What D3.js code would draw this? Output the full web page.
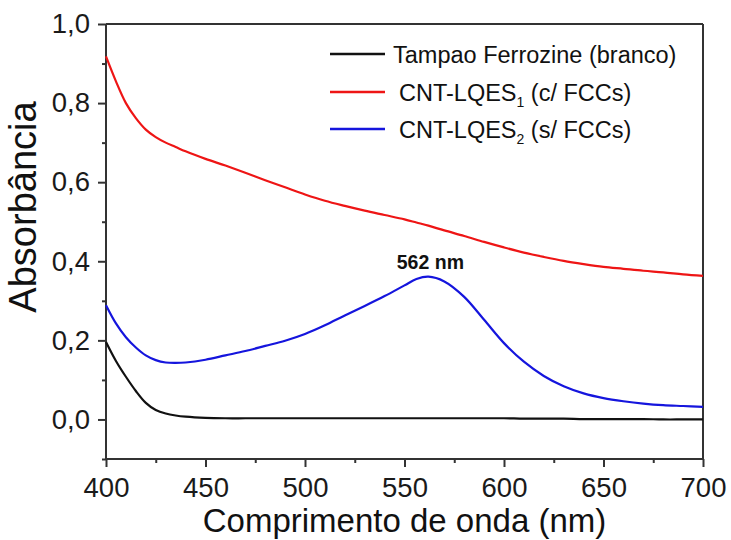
<!DOCTYPE html>
<html><head><meta charset="utf-8">
<script src="https://cdn.jsdelivr.net/npm/d3@7"></script>
<style>body{margin:0;background:#fff}svg{display:block}text{font-family:"Liberation Sans",Arial,sans-serif}</style>
</head><body>
<svg id="c" width="731" height="540"></svg>
<script>
const wavelengths = [400,405,410,415,420,425,430,435,440,450,460,470,480,490,500,510,520,530,540,550,556,562,570,580,590,600,610,620,630,640,650,660,670,680,690,700];
const blankValues = [0.196,0.148,0.108,0.072,0.042,0.024,0.015,0.010,0.007,0.004,0.003,0.003,0.003,0.003,0.003,0.003,0.003,0.003,0.003,0.003,0.003,0.003,0.003,0.003,0.003,0.003,0.002,0.002,0.002,0.001,0.001,0.001,0.001,0.000,0.000,0.000];
const lqes1Values = [0.918,0.855,0.800,0.762,0.733,0.714,0.700,0.689,0.678,0.659,0.642,0.624,0.605,0.587,0.569,0.553,0.540,0.528,0.517,0.506,0.498,0.490,0.478,0.464,0.449,0.435,0.422,0.411,0.401,0.393,0.386,0.381,0.376,0.372,0.367,0.363];
const lqes2Values = [0.289,0.243,0.208,0.182,0.162,0.150,0.144,0.143,0.144,0.151,0.162,0.173,0.186,0.199,0.216,0.238,0.263,0.287,0.312,0.339,0.355,0.361,0.349,0.310,0.252,0.193,0.146,0.110,0.084,0.066,0.054,0.046,0.040,0.036,0.034,0.032];
const seriesNames = ["Tampao Ferrozine (branco)","CNT-LQES1 (c/ FCCs)","CNT-LQES2 (s/ FCCs)"];
const seriesColors = ["#111111","#ee1515","#1515dd"];
const xTicks = [400,450,500,550,600,650,700];
const yTicks = [0.0,0.2,0.4,0.6,0.8,1.0];
const peakLabel = "562 nm";
const peakX = 562;

const svg = d3.select("#c");
const L=106, R=703, T=24, B=459;
const x = d3.scaleLinear().domain([400,700]).range([L,R]);
const y = d3.scaleLinear().domain([-0.1,1.0]).range([B,T]);
const axisColor="#333";

// frame top/right
svg.append("line").attr("x1",L).attr("x2",R).attr("y1",T).attr("y2",T).attr("stroke",axisColor).attr("stroke-width",2);
svg.append("line").attr("x1",R).attr("x2",R).attr("y1",T).attr("y2",B).attr("stroke",axisColor).attr("stroke-width",2);

const fmt = d=>d3.format(".1f")(d).replace(".",",");
// x axis
const xMinor = d3.range(425,700,50);
const gx = svg.append("g").attr("transform",`translate(0,${B})`);
gx.call(d3.axisBottom(x).tickValues(xTicks).tickSize(8).tickPadding(10).tickFormat(d3.format("d")));
const gxm = svg.append("g").attr("transform",`translate(0,${B})`);
gxm.call(d3.axisBottom(x).tickValues(xMinor).tickSize(4).tickFormat(""));
gxm.select(".domain").remove();
// y axis
const yMinor = [-0.1,0.1,0.3,0.5,0.7,0.9];
const gy = svg.append("g").attr("transform",`translate(${L},0)`);
gy.call(d3.axisLeft(y).tickValues(yTicks).tickSize(8).tickPadding(8).tickFormat(fmt));
const gym = svg.append("g").attr("transform",`translate(${L},0)`);
gym.call(d3.axisLeft(y).tickValues(yMinor).tickSize(4).tickFormat(""));
gym.select(".domain").remove();
[gx,gxm,gy,gym].forEach(g=>{
  g.selectAll("path.domain").attr("stroke",axisColor).attr("stroke-width",2);
  g.selectAll(".tick line").attr("stroke",axisColor).attr("stroke-width",2);
  g.selectAll(".tick text").attr("fill","#1a1a1a").style("font-size","27.5px").style("font-family",'"Liberation Sans",Arial,sans-serif');
});
gx.select(".domain").attr("d",`M${L},0H${R}`);
gy.select(".domain").attr("d",`M0,${B}V${T}`);

// lines
const all = [blankValues,lqes1Values,lqes2Values];
const line = d3.line().x((d,i)=>x(wavelengths[i])).y(d=>y(d)).curve(d3.curveCatmullRom.alpha(0.5));
all.forEach((vals,k)=>{
  svg.append("path").datum(vals).attr("d",line).attr("fill","none").attr("stroke",seriesColors[k]).attr("stroke-width",2.2);
});

// peak annotation
svg.append("text").attr("x",x(peakX)+2).attr("y",269).attr("text-anchor","middle").style("font-size","19.5px").style("font-weight","bold").attr("fill","#111").text(peakLabel);

// axis titles
svg.append("text").attr("x",(L+R)/2).attr("y",532).attr("text-anchor","middle").style("font-size","33px").attr("fill","#111").text("Comprimento de onda (nm)");
svg.append("text").attr("transform",`translate(36,207) rotate(-90)`).attr("text-anchor","middle").style("font-size","38px").attr("fill","#111").text("Absorbância");

// legend
const legY=[54,92,129];
const lg = svg.append("g");
seriesNames.forEach((name,k)=>{
  lg.append("line").attr("x1",330).attr("x2",385).attr("y1",legY[k]).attr("y2",legY[k]).attr("stroke",seriesColors[k]).attr("stroke-width",2.4);
  const t = lg.append("text").attr("x",k===0?393:399).attr("y",legY[k]+8.5).style("font-size","23.5px").attr("fill","#111");
  const m = name.match(/^(CNT-LQES)(\d)(.*)$/);
  if(m){
    t.append("tspan").text(m[1]);
    t.append("tspan").attr("dy",6).style("font-size","14px").text(m[2]);
    t.append("tspan").attr("dy",-6).text(m[3]);
  } else t.text(name);
});
</script>
</body></html>
